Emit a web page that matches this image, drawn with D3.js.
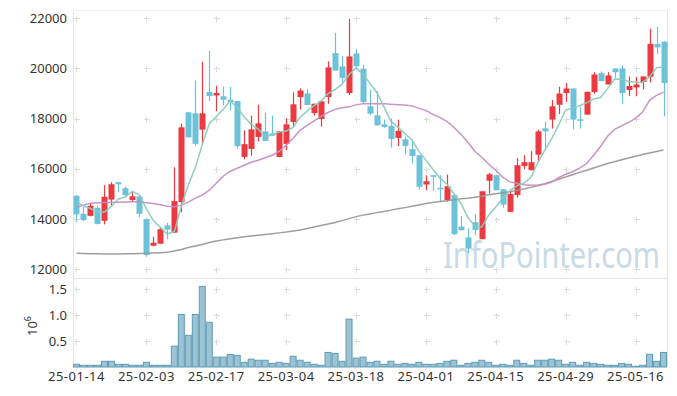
<!DOCTYPE html>
<html><head><meta charset="utf-8">
<script src="https://cdn.jsdelivr.net/npm/d3@7"></script>
<style>
body{margin:0;background:#fff}
svg{display:block}
text{font-family:"Noto Sans",sans-serif}
</style>
</head><body>
<svg id="chart" width="677" height="396"></svg>
<script>
const dates = [
"25-01-14","25-01-15","25-01-16","25-01-17","25-01-20","25-01-21","25-01-22","25-01-23","25-01-24","25-01-31",
"25-02-03","25-02-04","25-02-05","25-02-06","25-02-07","25-02-10","25-02-11","25-02-12","25-02-13","25-02-14",
"25-02-17","25-02-18","25-02-19","25-02-20","25-02-21","25-02-24","25-02-25","25-02-26","25-02-27","25-02-28",
"25-03-04","25-03-05","25-03-06","25-03-07","25-03-10","25-03-11","25-03-12","25-03-13","25-03-14","25-03-17",
"25-03-18","25-03-19","25-03-20","25-03-21","25-03-24","25-03-25","25-03-26","25-03-27","25-03-28","25-03-31",
"25-04-01","25-04-02","25-04-03","25-04-04","25-04-07","25-04-08","25-04-09","25-04-10","25-04-11","25-04-14",
"25-04-15","25-04-16","25-04-17","25-04-18","25-04-21","25-04-22","25-04-23","25-04-24","25-04-25","25-04-28",
"25-04-29","25-04-30","25-05-02","25-05-07","25-05-08","25-05-09","25-05-12","25-05-13","25-05-14","25-05-15",
"25-05-16","25-05-19","25-05-20","25-05-21","25-05-22"];

const open  = [14920,14200,14120,14440,13920,14770,15460,15220,14750,14900,
               13990,12930,13010,13740,13450,14670,18250,18210,17560,19060,
               18920,18890,18750,18700,16470,16790,17270,17490,17410,16470,
               16990,17860,18860,19000,18220,17980,18860,20610,20080,19020,
               20600,19990,18490,18130,17770,17710,17230,17170,16780,16540,
               15370,15740,15240,14750,14950,13690,13260,13860,13190,15520,
               15740,15180,14280,14950,16110,15940,16560,17610,17960,18550,
               19020,19200,17970,18160,19060,19810,19360,20000,20000,19140,
               19240,19460,19670,20980,21070];
const high  = [14950,14480,14640,14520,15340,15460,15470,15280,15080,14910,
               14000,13290,13660,13840,16060,17800,18260,19520,20270,20700,
               19310,19280,19260,18710,17530,18120,18550,18240,18120,17500,
               18000,19050,19200,19180,18600,18690,20280,21420,20500,21980,
               20780,20150,19150,19100,17960,18000,17960,17290,17130,16550,
               15740,15750,15740,15770,14960,14110,13620,14190,15100,15830,
               15750,15190,15140,16430,16540,16700,17560,17880,18740,19270,
               19420,19210,18460,19070,19850,19880,19850,20010,20120,19680,
               19660,19680,21580,21660,21080];
const low   = [13880,13910,14100,13780,13780,14520,15060,14880,14720,14060,
               12490,12900,13000,13190,13440,14260,17250,16920,17000,18700,
               18290,18530,18330,16800,16380,16520,17090,17100,17300,16460,
               16740,17670,18360,18540,18120,17680,18590,19920,19430,18940,
               20040,18600,18130,17730,17630,16840,16900,16580,16210,15170,
               15140,15120,14680,14680,13350,13530,12620,13350,13190,15010,
               15140,14440,14280,14840,15980,15940,16270,16800,17600,18180,
               18660,17570,17600,18150,18990,19480,19360,19620,18590,18900,
               18890,19160,19440,20580,18090];
const close = [14180,13950,14520,13800,14880,15380,15380,14950,14900,14200,
               12560,13050,13590,13570,14710,17650,17250,16990,18210,18900,
               19020,18750,18660,16900,16980,17570,17810,17110,17320,17490,
               17770,18570,19120,18540,18590,18690,20040,19920,19620,20480,
               20090,18660,18200,17730,17670,17190,17510,16910,16510,15280,
               15500,15680,15200,15300,13390,13550,12810,13550,15100,15780,
               15140,14570,14990,16140,16260,16260,17490,17490,18490,19000,
               19200,17960,17920,19070,19760,19500,19720,19850,19020,19300,
               19360,19680,20980,20840,19420];
const volume = [52000,33000,33000,33000,110000,110000,52000,52000,33000,33000,
                90000,33000,33000,33000,400000,1010000,610000,1010000,1550000,860000,
                190000,190000,240000,225000,90000,150000,130000,130000,70000,90000,
                70000,205000,130000,90000,52000,33000,280000,260000,110000,920000,
                170000,190000,90000,110000,52000,110000,52000,70000,52000,90000,
                52000,52000,70000,110000,130000,33000,70000,90000,130000,90000,
                33000,52000,33000,130000,70000,33000,130000,130000,150000,130000,
                52000,90000,33000,90000,70000,52000,33000,33000,70000,52000,
                13000,33000,245000,110000,280000];
// 5-day MA values before enough closes exist
const ma5Head = [14680,14520,14415,14280];
const ma20 = [14448,14547,14627,14647,14655,14667,14667,14675,14687,14679,
              14647,14615,14567,14507,14488,14547,14667,14826,14945,15144,
              15423,15701,15900,16020,16139,16259,16338,16438,16537,16696,
              16935,17214,17532,17731,17910,18089,18249,18368,18428,18468,
              18547,18587,18595,18595,18587,18567,18555,18539,18507,18408,
              18328,18169,18050,17890,17652,17373,17055,16696,16458,16179,
              15940,15662,15475,15423,15363,15343,15351,15383,15463,15642,
              15781,15881,16020,16207,16537,16895,17293,17572,17711,17851,
              18010,18261,18726,18925,19057];
const ma60 = [12625,12617,12613,12605,12597,12597,12597,12605,12613,12621,
              12625,12637,12649,12665,12716,12776,12856,12915,12975,13055,
              13114,13162,13206,13246,13282,13313,13345,13377,13409,13441,
              13473,13512,13560,13612,13672,13731,13791,13851,13930,14010,
              14090,14149,14197,14249,14296,14348,14400,14448,14499,14555,
              14611,14655,14694,14726,14766,14798,14826,14866,14905,14965,
              15005,15045,15085,15136,15192,15256,15323,15403,15490,15582,
              15674,15761,15853,15940,16032,16119,16207,16279,16358,16430,
              16497,16565,16629,16688,16748];
const priceTicks = [12000,14000,16000,18000,20000,22000];
const volTicks = [500000,1000000,1500000];
const xTickLabels = ["25-01-14","25-02-03","25-02-17","25-03-04","25-03-18","25-04-01","25-04-15","25-04-29","25-05-16"];

const ma5 = close.map((c,i)=> i<4 ? ma5Head[i] : d3.mean(close.slice(i-4,i+1)));

const svg = d3.select("#chart");
const L = 73, R = 667;
const x = d3.scaleBand().domain(dates).range([L, R]).padding(0);
const cx = d => x(d) + x.bandwidth()/2;
const y = d3.scaleLinear().domain([12000,22000]).range([269,18.3]);
const yv = d3.scaleLinear().domain([0,1500000]).range([367,289]);

const rows = dates.map((d,i)=>({d,o:open[i],h:high[i],l:low[i],c:close[i],v:volume[i]}));

// frames
const frame = svg.append("g").attr("stroke","#e3e3e3").attr("fill","none").attr("shape-rendering","crispEdges");
frame.append("line").attr("x1",L+0.5).attr("x2",L+0.5).attr("y1",10).attr("y2",367);
frame.append("line").attr("x1",R+0.5).attr("x2",R+0.5).attr("y1",10).attr("y2",367);
frame.append("line").attr("x1",L).attr("x2",R).attr("y1",10.5).attr("y2",10.5).attr("stroke","#efefef");
frame.append("line").attr("x1",L).attr("x2",R).attr("y1",278.5).attr("y2",278.5);

// watermark
svg.append("text").attr("x",443).attr("y",268).attr("font-size",36)
  .attr("font-family","'DejaVu Sans Condensed','Liberation Sans Narrow','Noto Sans',sans-serif")
  .attr("textLength",217).attr("lengthAdjust","spacingAndGlyphs")
  .attr("fill","#c8dae5").text("InfoPointer.com");

// crosshair grid marks
const gm = svg.append("g").attr("stroke","#dcdcdc").attr("stroke-width",1).attr("shape-rendering","crispEdges");
const markRowsY = priceTicks.map(t=>y(t)).concat(volTicks.map(t=>yv(t)));
xTickLabels.forEach(lbl=>{
  const px = Math.round(cx(lbl))+0.5;
  markRowsY.forEach(py0=>{
    const py = Math.round(py0)+0.5;
    gm.append("line").attr("x1",px-3).attr("x2",px+3).attr("y1",py).attr("y2",py);
    gm.append("line").attr("x1",px).attr("x2",px).attr("y1",py-3).attr("y2",py+3);
  });
});

// volume bars
svg.append("g").selectAll("rect").data(rows).join("rect")
  .attr("x",d=>x(d.d)+0.5).attr("width",x.bandwidth()-1)
  .attr("y",d=>yv(d.v)).attr("height",d=>yv(0)-yv(d.v))
  .attr("fill","#9cc3d4").attr("stroke","#5f9bb5").attr("stroke-width",1);

// candles
const up = "#ec3a40", down = "#6cc2d9";
const cg = svg.append("g");
cg.selectAll("line").data(rows).join("line")
  .attr("x1",d=>Math.round(cx(d.d))+0.5).attr("x2",d=>Math.round(cx(d.d))+0.5)
  .attr("y1",d=>y(d.h)).attr("y2",d=>y(d.l))
  .attr("stroke",d=>d.c>=d.o?up:down).attr("stroke-width",1.2);
cg.selectAll("rect").data(rows).join("rect")
  .attr("x",d=>Math.round(cx(d.d))-2.5).attr("width",6)
  .attr("y",d=>y(Math.max(d.o,d.c)))
  .attr("height",d=>Math.max(1.5,Math.abs(y(d.o)-y(d.c))))
  .attr("fill",d=>d.c>=d.o?up:down);

// moving averages
const lineGen = arr => d3.line().x((v,i)=>cx(dates[i])).y(v=>y(v))(arr);
svg.append("path").attr("d",lineGen(ma60)).attr("fill","none").attr("stroke","#999").attr("stroke-width",1.5).attr("opacity",0.95);
svg.append("path").attr("d",lineGen(ma20)).attr("fill","none").attr("stroke","#c78cc2").attr("stroke-width",1.5).attr("opacity",0.95);
svg.append("path").attr("d",lineGen(ma5)).attr("fill","none").attr("stroke","#89cbbd").attr("stroke-width",1.5).attr("opacity",0.95);

// axes labels
const yAxis = d3.axisLeft(y).tickValues(priceTicks).tickSize(0).tickPadding(6).tickFormat(d3.format("d"));
svg.append("g").attr("transform",`translate(${L},0)`).call(yAxis)
  .call(g=>g.select(".domain").remove())
  .selectAll("text").attr("font-size",13).attr("fill","#333").attr("font-family","Noto Sans");
const vAxis = d3.axisLeft(yv).tickValues(volTicks).tickSize(0).tickPadding(6).tickFormat(d=>d3.format(".1f")(d/1e6));
svg.append("g").attr("transform",`translate(${L},0)`).call(vAxis)
  .call(g=>g.select(".domain").remove())
  .selectAll("text").attr("font-size",13).attr("fill","#333").attr("font-family","Noto Sans");
const xAxis = d3.axisBottom(x).tickValues(xTickLabels).tickSize(0).tickPadding(0);
svg.append("g").attr("transform","translate(0,368)").call(xAxis)
  .call(g=>g.select(".domain").remove())
  .selectAll("text").attr("font-size",13).attr("fill","#333").attr("font-family","Noto Sans")
  .attr("dy","1em").attr("letter-spacing","0.5px");

// 10^6 label
const ul = svg.append("text").attr("transform","translate(37,326) rotate(-90)")
  .attr("text-anchor","middle").attr("font-size",13).attr("fill","#333");
ul.append("tspan").text("10");
ul.append("tspan").attr("dy",-6).attr("font-size",9).text("6");
</script>
</body></html>
